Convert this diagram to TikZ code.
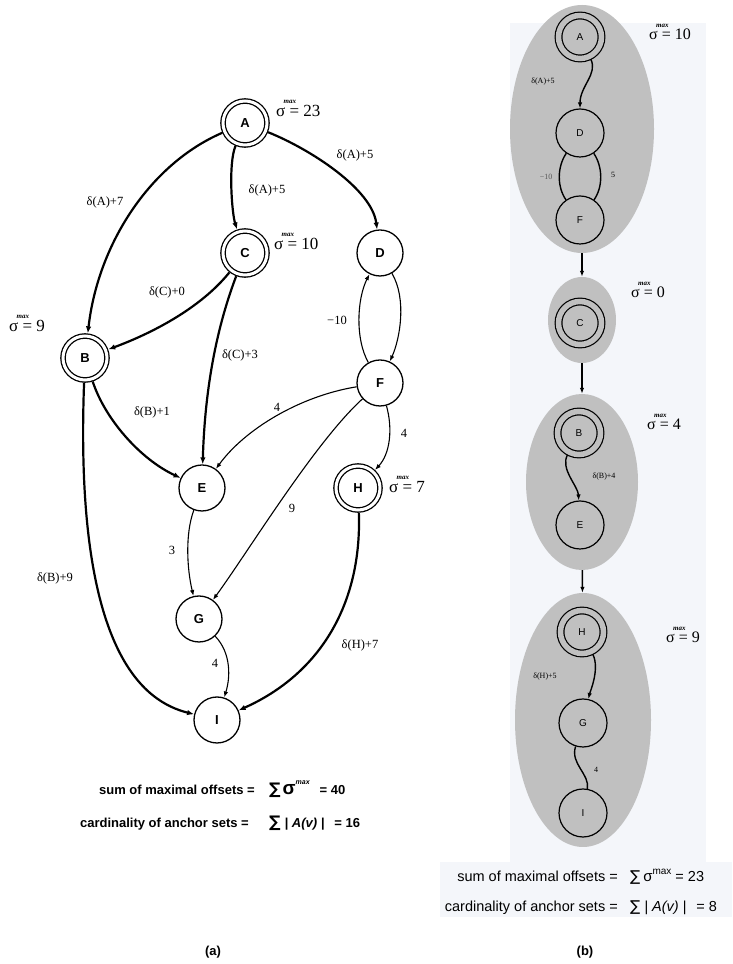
\documentclass[tikz,border=0pt]{standalone}
\usepackage{fontspec}
\setmainfont{Liberation Serif}
\setsansfont{Liberation Sans}
\newfontfamily\djv{DejaVu Sans}
\usetikzlibrary{arrows.meta,shapes.geometric}
\definecolor{ellgray}{RGB}{192,192,192}
\definecolor{paleblue}{RGB}{244,246,250}
\newcommand{\fs}[1]{\fontsize{#1}{#1}\selectfont}
\newcommand{\maxsig}[2]{\fs{#1}σ\rlap{\raisebox{0.8em}{\kern-0.1em\fs{7}\bfseries\itshape max}}\ = #2}
\begin{document}
\begin{tikzpicture}[x=1pt,y=1pt,
  nd/.style={circle,draw,line width=1.3pt,minimum size=46pt,inner sep=0pt,font=\sffamily\bfseries\fs{13}},
  dnd/.style={nd,double,double distance=3pt,minimum size=44pt,outer sep=2.8pt},
  thk/.style={line width=2.2pt,-{Latex[length=7pt,width=5.5pt]}},
  thn/.style={line width=1.1pt,-{Latex[length=6pt,width=4.5pt]}},
  elbl/.style={font=\fs{12.5},inner sep=1pt},
  sig/.style={anchor=base west,inner sep=0pt},
  rnd/.style={circle,draw,line width=1.2pt,minimum size=48pt,inner sep=0pt,font=\sffamily\fs{10}},
  rdnd/.style={rnd,double=ellgray,double distance=5.5pt,minimum size=43pt,outer sep=3.3pt},
  redge/.style={line width=1.4pt},
  rarr/.style={line width=1.4pt,-{Latex[length=6pt,width=4.5pt]}},
  rlbl/.style={font=\fs{8},inner sep=1pt},
  ell/.style={ellipse,fill=ellgray,inner sep=0pt},
  btl/.style={font=\sffamily\bfseries\fs{13},inner sep=0pt},
  btr/.style={font=\sffamily\fs{14.5},inner sep=0pt}
]
\useasboundingbox (0,0) rectangle (732,964);

% ---------- right panel background ----------
\fill[paleblue] (510,102) rectangle (706,941);
\fill[paleblue] (440,47) rectangle (732,102);
\node[ell,minimum width=144pt,minimum height=248pt] (E1) at (582,835) {};
\node[ell,minimum width=68pt,minimum height=86pt] (E2) at (582,644) {};
\node[ell,minimum width=112pt,minimum height=176pt] (E3) at (582,482) {};
\node[ell,minimum width=136pt,minimum height=254pt] (E4) at (583,244) {};
\draw[rarr] (E1) -- (E2);
\draw[rarr] (E2) -- (E3);
\draw[rarr] (E3) -- (E4);

% ---------- (a) nodes ----------
\node[dnd] (A) at (245,841) {A};
\node[dnd] (C) at (245,711) {C};
\node[nd] (D) at (380,711) {D};
\node[dnd] (B) at (85,606) {B};
\node[nd] (F) at (380,581) {F};
\node[nd] (E) at (202,476) {E};
\node[dnd] (H) at (358,476) {H};
\node[nd] (G) at (199,345) {G};
\node[nd] (I) at (217,244) {I};

% ---------- (a) edges ----------
\draw[thk] (A) .. controls (150,800) and (98,720) .. (B);
\draw[thk] (A) .. controls (228,800) and (232,750) .. (C);
\draw[thk] (A) .. controls (310,815) and (372,775) .. (D);
\draw[thk] (C) .. controls (200,655) and (150,630) .. (B);
\draw[thk] (C) .. controls (218,640) and (205,580) .. (E);
\draw[thn] (F) .. controls (355,625) and (357,665) .. (D);
\draw[thn] (D) .. controls (407,665) and (400,625) .. (F);
\draw[thk] (B) .. controls (105,545) and (140,505) .. (E);
\draw[thk] (B) .. controls (74,310) and (145,262) .. (I);
\draw[thn] (F) .. controls (300,568) and (245,535) .. (E);
\draw[thn] (F) .. controls (315,522) and (248,412) .. (G);
\draw[thn] (F) .. controls (393,535) and (390,510) .. (H);
\draw[thn] (E) .. controls (185,430) and (187,395) .. (G);
\draw[thn] (G) .. controls (232,310) and (230,285) .. (I);
\draw[thk] (H) .. controls (362,360) and (320,290) .. (I);

% ---------- (a) labels ----------
\node[sig] (sA) at (276,847) {\maxsig{17}{23}};
\node[sig] (sC) at (274,714) {\maxsig{17}{10}};
\node[sig] (sB) at (9,632) {\maxsig{17}{9}};
\node[sig] (sH) at (389,471) {\maxsig{17}{7}};

\node[elbl] (l1) at (105,762) {δ(A)+7};
\node[elbl] (l2) at (267,774) {δ(A)+5};
\node[elbl] (l3) at (355,809) {δ(A)+5};
\node[elbl] (l4) at (167,672) {δ(C)+0};
\node[elbl] (l5) at (240,609) {δ(C)+3};
\node[elbl] (l6) at (337,644) {−10};
\node[elbl] (l7) at (152,552) {δ(B)+1};
\node[elbl] (l8) at (277,557) {4};
\node[elbl] (l9) at (404,531) {4};
\node[elbl] (l10) at (292,456) {9};
\node[elbl] (l11) at (172,414) {3};
\node[elbl] (l12) at (55,386) {δ(B)+9};
\node[elbl] (l13) at (360,319) {δ(H)+7};
\node[elbl] (l14) at (215,301) {4};

% ---------- (b) nodes ----------
\node[rdnd] (RA) at (580,927) {A};
\node[rnd] (RD) at (580,831) {D};
\node[rnd] (RF) at (580,744) {F};
\node[rdnd] (RC) at (580,641) {C};
\node[rdnd] (RB) at (579,531) {B};
\node[rnd] (RE) at (580,439) {E};
\node[rdnd] (RH) at (582,332) {H};
\node[rnd] (RG) at (583,241) {G};
\node[rnd] (RI) at (583,151) {I};

\draw[rarr] (RA) .. controls (598,890) and (580,878) .. (RD);
\draw[redge] (RD) .. controls (557,797) and (557,777) .. (RF);
\draw[redge] (RD) .. controls (603,797) and (603,777) .. (RF);
\draw[rarr] (RB) .. controls (560,495) and (578,478) .. (RE);
\draw[rarr] (RH) .. controls (600,295) and (590,272) .. (RG);
\draw[redge] (RG) .. controls (570,200) and (590,190) .. (RI);

\node[sig] (sRA) at (649,924) {\maxsig{16}{10}};
\node[sig] (sRC) at (631,666) {\maxsig{16}{0}};
\node[sig] (sRB) at (647,534) {\maxsig{16}{4}};
\node[sig] (sRH) at (666,321) {\maxsig{16}{9}};

\node[rlbl] (r1) at (543,882) {δ(A)+5};
\node[rlbl,text=black!65] (r2) at (546,787) {−10};
\node[rlbl] (r3) at (613,789) {5};
\node[rlbl] (r4) at (604,487) {δ(B)+4};
\node[rlbl] (r5) at (545,287) {δ(H)+5};
\node[rlbl] (r6) at (596,194) {4};

% ---------- bottom texts ----------
\node[btl,anchor=base east] (b1) at (255,169) {sum of maximal offsets =};
\node[btl,anchor=base west] (b2) at (269,169) {{\djv\fs{16}∑}\hspace{2pt}{\fs{19}σ}\raisebox{10pt}{\fs{7}\itshape max}\hspace{10pt}= 40};
\node[btl,anchor=base east] (b3) at (249,136) {cardinality of anchor sets =};
\node[btl,anchor=base west] (b4) at (269,136) {{\djv\fs{16}∑}\hspace{4pt}{\itshape | A(v) |}\hspace{10pt}= 16};

\node[btr,anchor=base east] (b5) at (618,82) {sum of maximal offsets =};
\node[btr,anchor=base west] (b6) at (630,82) {{\djv\fs{15}∑}\hspace{3pt}{\fs{15}σ}\raisebox{7pt}{\fs{10}max}\hspace{4pt}= 23};
\node[btr,anchor=base east] (b7) at (618,52) {cardinality of anchor sets =};
\node[btr,anchor=base west] (b8) at (630,52) {{\djv\fs{15}∑}\hspace{4pt}{\itshape | A(v) |}\hspace{10pt}= 8};

\node[btl] (ca) at (213,12) {(a)};
\node[btl] (cb) at (585,12) {(b)};
\end{tikzpicture}
\end{document}
